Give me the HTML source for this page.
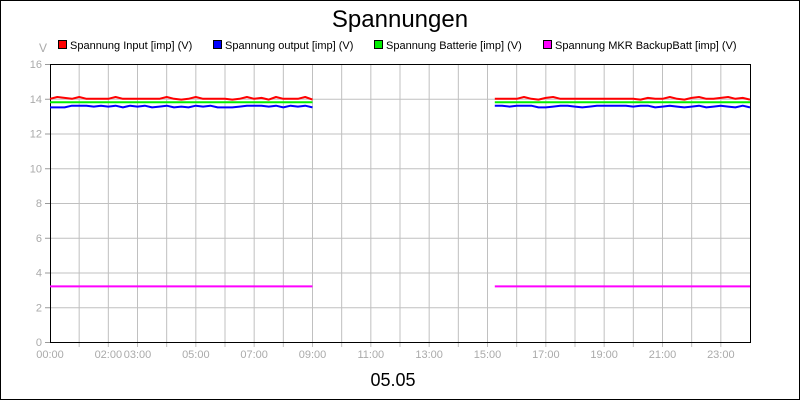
<!DOCTYPE html>
<html><head><meta charset="utf-8"><style>
body{margin:0;background:#fff}
svg{display:block;font-family:"Liberation Sans",sans-serif}
</style></head><body>
<svg id="chart" width="800" height="400">
<rect x="0.5" y="0.5" width="799" height="399" fill="#fff" stroke="#000"/>
<text x="400" y="27" text-anchor="middle" font-size="24">Spannungen</text>
<text x="43" y="52" text-anchor="middle" font-size="12" fill="#aaa">V</text>
<g id="legend"></g>
<g id="grid"></g>
<g id="axes"></g>
<g id="series"></g>
<text x="393" y="386" text-anchor="middle" font-size="18">05.05</text>
</svg>
<script>
const seriesNames = ["Spannung Input [imp] (V)","Spannung output [imp] (V)","Spannung Batterie [imp] (V)","Spannung MKR BackupBatt [imp] (V)"];
const seriesColors = ["#ff0000","#0000ff","#00ee00","#ff00ff"];
const yTicks = [0,2,4,6,8,10,12,14,16];
const xTickLabels = ["00:00","02:00","03:00","05:00","07:00","09:00","11:00","13:00","15:00","17:00","19:00","21:00","23:00"];
const xTickHours = [0,2,3,5,7,9,11,13,15,17,19,21,23];
const seg1Start = 0, seg2Start = 15.25, stepH = 0.25;
const input1 = [14.0,14.1,14.05,14.0,14.1,14.0,14.0,14.0,14.0,14.1,14.0,14.0,14.0,14.0,14.0,14.0,14.1,14.0,13.95,14.0,14.1,14.0,14.0,14.0,14.0,13.95,14.0,14.1,14.0,14.05,13.95,14.1,14.0,14.0,14.0,14.1,13.95];
const output1 = [13.5,13.5,13.5,13.6,13.6,13.6,13.55,13.6,13.55,13.6,13.5,13.6,13.55,13.6,13.5,13.55,13.6,13.5,13.55,13.5,13.6,13.55,13.6,13.5,13.5,13.5,13.55,13.6,13.6,13.6,13.55,13.6,13.5,13.6,13.55,13.6,13.5];
const batt1 = [13.8,13.8,13.8,13.8,13.8,13.8,13.8,13.8,13.8,13.8,13.8,13.8,13.8,13.8,13.8,13.8,13.8,13.8,13.8,13.8,13.8,13.8,13.8,13.8,13.8,13.8,13.8,13.8,13.8,13.8,13.8,13.8,13.8,13.8,13.8,13.8,13.8];
const mkr1 = [3.2,3.2,3.2,3.2,3.2,3.2,3.2,3.2,3.2,3.2,3.2,3.2,3.2,3.2,3.2,3.2,3.2,3.2,3.2,3.2,3.2,3.2,3.2,3.2,3.2,3.2,3.2,3.2,3.2,3.2,3.2,3.2,3.2,3.2,3.2,3.2,3.2];
const input2 = [14.0,14.0,14.0,14.0,14.1,14.0,13.95,14.05,14.1,14.0,14.0,14.0,14.0,14.0,14.0,14.0,14.0,14.0,14.0,14.0,13.95,14.05,14.0,14.0,14.1,14.0,13.95,14.05,14.1,14.0,14.0,14.05,14.1,14.0,14.05,13.95];
const output2 = [13.6,13.6,13.55,13.6,13.6,13.6,13.5,13.5,13.55,13.6,13.6,13.55,13.5,13.55,13.6,13.6,13.6,13.6,13.6,13.55,13.6,13.6,13.5,13.55,13.6,13.55,13.5,13.55,13.6,13.5,13.55,13.6,13.55,13.5,13.6,13.5];
const batt2 = [13.8,13.8,13.8,13.8,13.8,13.8,13.8,13.8,13.8,13.8,13.8,13.8,13.8,13.8,13.8,13.8,13.8,13.8,13.8,13.8,13.8,13.8,13.8,13.8,13.8,13.8,13.8,13.8,13.8,13.8,13.8,13.8,13.8,13.8,13.8,13.8];
const mkr2 = [3.2,3.2,3.2,3.2,3.2,3.2,3.2,3.2,3.2,3.2,3.2,3.2,3.2,3.2,3.2,3.2,3.2,3.2,3.2,3.2,3.2,3.2,3.2,3.2,3.2,3.2,3.2,3.2,3.2,3.2,3.2,3.2,3.2,3.2,3.2,3.2];

const NS="http://www.w3.org/2000/svg";
const L=50,R=750,T=64,B=342;
const xS=h=>L+(R-L)*h/24;
const yS=v=>B-(B-T)*v/16;
function mk(tag,attrs,parent){const e=document.createElementNS(NS,tag);for(const k in attrs)e.setAttribute(k,attrs[k]);parent.appendChild(e);return e;}
const grid=document.getElementById('grid'),axes=document.getElementById('axes'),ser=document.getElementById('series'),leg=document.getElementById('legend');
for(let h=1;h<24;h++){const l=mk('line',{x1:xS(h),x2:xS(h),y1:T,y2:B,stroke:'#c0c0c0'},grid);


const t=mk('line',{x1:xS(h),x2:xS(h),y1:B,y2:B+5,stroke:'#c0c0c0'},axes);

}
yTicks.forEach(v=>{if(v>0&&v<16){const l=mk('line',{x1:L,x2:R,y1:yS(v)+0.5,y2:yS(v)+0.5,stroke:'#c0c0c0'},grid);

}
const tk=mk('line',{x1:L-5,x2:L,y1:yS(v)+0.5,y2:yS(v)+0.5,stroke:'#999'},axes);


const t=mk('text',{x:L-8,y:yS(v)+4,'text-anchor':'end','font-size':11,fill:'#aaa'},axes);t.textContent=v;

});
xTickLabels.forEach((s,i)=>{const t=mk('text',{x:xS(xTickHours[i]),y:B+16,'text-anchor':'middle','font-size':11,fill:'#aaa'},axes);t.textContent=s;

});
const fr=mk('path',{d:`M${L+0.5},${T+0.5}H${R+0.5}V${B+0.5}H${L+0.5}Z`,fill:'none',stroke:'#000'},axes);


const segs=[[input1,input2],[output1,output2],[batt1,batt2],[mkr1,mkr2]];
const order=[3,1,2,0];
order.forEach(si=>{[[segs[si][0],seg1Start],[segs[si][1],seg2Start]].forEach(([arr,st])=>{
const d=arr.map((v,i)=>(i?'L':'M')+xS(st+i*stepH).toFixed(1)+','+yS(v).toFixed(1)).join('');
const p=mk('path',{d,fill:'none',stroke:seriesColors[si],'stroke-width':2,'stroke-linejoin':'round'},ser);

});});
const lx=[58,213,374,543];
seriesNames.forEach((n,i)=>{const r=mk('rect',{x:lx[i]+0.5,y:40.5,width:8,height:8,fill:seriesColors[i],stroke:'#000'},leg);


const t=mk('text',{x:lx[i]+12,y:49,'font-size':11},leg);t.textContent=n;

});
</script>
</body></html>
